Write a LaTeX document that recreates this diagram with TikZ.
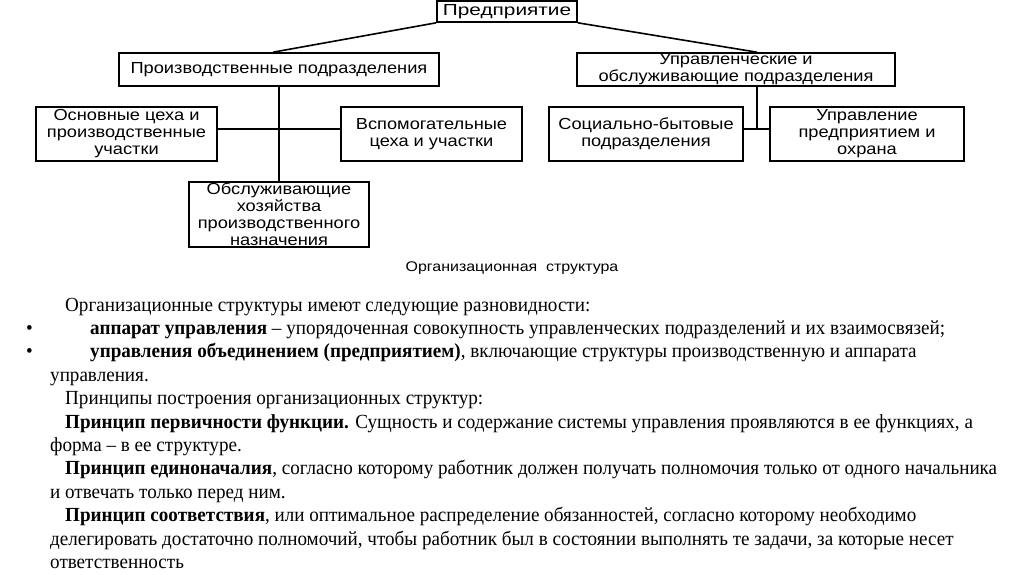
\documentclass[tikz,border=0pt]{standalone}
\usepackage{fontspec}
\setmainfont{Liberation Serif}
\newfontfamily\chartfont[FakeStretch=1.14]{Liberation Sans}
\newfontfamily\firmfont[FakeStretch=1.3]{Liberation Sans}
\newfontfamily\bodyfont[FakeStretch=0.955]{Liberation Serif}
\usetikzlibrary{positioning,calc}
\def \busY {129}
\tikzset{
 	block/.style= {draw, rectangle, line width=1.6pt, align=center, inner sep=0pt, font=\chartfont\fontsize{16}{17}\selectfont},
 	topblock/.style= {block, font=\firmfont\fontsize{16}{17}\selectfont},
 	link/.style= {draw, line width=1.6pt},
 	captionline/.style= {inner sep=0pt, font=\chartfont\fontsize{14}{16}\selectfont},
 	textline/.style= {anchor=base west, inner sep=0pt, font=\bodyfont\fontsize{20}{23}\selectfont}
 }
\begin{document}
\begin{tikzpicture}[x=1pt, y=-1pt]
\useasboundingbox (0,0) rectangle (1024,574);

%%%%%%%%%%%%%%%%%%%%% Nodes %%%%%%%%%%%%%%%%%%%%%
	\node [topblock, minimum width=140pt, minimum height=21pt] (firm) at (507,11.5) {Предприятие};
	\node [block, minimum width=320pt, minimum height=33pt] (prod) at (279,69.5) {Производственные подразделения};
	\node [block, minimum width=318pt, minimum height=33pt] (mgmt) at (736,69.5) {Управленческие и\\обслуживающие подразделения};
	\node [block, minimum width=181pt, minimum height=54pt] (main) at (126.5,134) {Основные цеха и\\производственные\\участки};
	\node [block, minimum width=181pt, minimum height=54pt] (aux) at (431.5,134) {Вспомогательные\\цеха и участки};
	\node [block, minimum width=180pt, minimum height=65pt] (serv) at (279,214.5) {Обслуживающие\\хозяйства\\производственного\\назначения};
	\node [block, minimum width=194pt, minimum height=54pt] (soc) at (646,134) {Социально-бытовые\\подразделения};
	\node [block, minimum width=194pt, minimum height=54pt] (admin) at (867,134) {Управление\\предприятием и\\охрана};
	\coordinate (prodbus) at (279,\busY);
	\coordinate (mgmtbus) at (757,\busY);
	\node [captionline] (title) at (512,268) {Организационная\ \ структура};

%%%%%%%%%%%%%%%%%%%%% Links %%%%%%%%%%%%%%%%%%%%%
	\draw [link] (firm.south west) -- ($(prod.north)+(-6,0)$);
	\draw [link] (firm.south east) -- (mgmt.north -| mgmtbus);
	\draw [link] (prod.south) -- (serv.north);
	\draw [link] (main.east |- prodbus) -- (aux.west |- prodbus);
	\draw [link] (mgmt.south -| mgmtbus) -- (mgmtbus);
	\draw [link] (soc.east |- mgmtbus) -- (admin.west |- mgmtbus);

%%%%%%%%%%%%%%%%%%%%% Text %%%%%%%%%%%%%%%%%%%%%
	\node [textline] (l1) at (65,311) {Организационные структуры имеют следующие разновидности:};
	\node [textline] (b2) at (26,334.4) {•};
	\node [textline] (l2) at (90,334.4) {\textbf{аппарат управления} – упорядоченная совокупность управленческих подразделений и их взаимосвязей;};
	\node [textline] (b3) at (26,357.8) {•};
	\node [textline] (l3) at (90,357.8) {\textbf{управления объединением (предприятием)}, включающие структуры производственную и аппарата};
	\node [textline] (l4) at (50,381.2) {управления.};
	\node [textline] (l5) at (65,404.6) {Принципы построения организационных структур:};
	\node [textline] (l6) at (65,428) {\textbf{Принцип первичности функции.} Сущность и содержание системы управления проявляются в ее функциях, а};
	\node [textline] (l7) at (50,451.4) {форма – в ее структуре.};
	\node [textline] (l8) at (65,474.8) {\textbf{Принцип единоначалия}, согласно которому работник должен получать полномочия только от одного начальника};
	\node [textline] (l9) at (50,498.2) {и отвечать только перед ним.};
	\node [textline] (l10) at (65,521.6) {\textbf{Принцип соответствия}, или оптимальное распределение обязанностей, согласно которому необходимо};
	\node [textline] (l11) at (50,545) {делегировать достаточно полномочий, чтобы работник был в состоянии выполнять те задачи, за которые несет};
	\node [textline] (l12) at (50,568.4) {ответственность};

\end{tikzpicture}
\end{document}
